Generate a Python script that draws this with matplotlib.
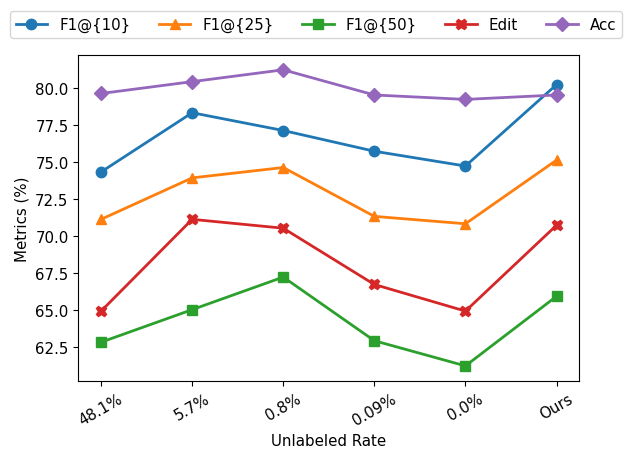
import matplotlib
matplotlib.use("Agg")
import matplotlib.pyplot as plt

categories = ["48.1%", "5.7%", "0.8%", "0.09%", "0.0%", "Ours"]
f1_10 = [74.3, 78.3, 77.1, 75.7, 74.7, 80.2]
f1_25 = [71.1, 73.9, 74.6, 71.3, 70.8, 75.1]
f1_50 = [62.8, 65.0, 67.2, 62.9, 61.2, 65.9]
edit = [64.9, 71.1, 70.5, 66.7, 64.9, 70.7]
acc = [79.6, 80.4, 81.2, 79.5, 79.2, 79.5]

series = [
    ("F1@{10}", f1_10, "o", "#1f77b4"),
    ("F1@{25}", f1_25, "^", "#ff7f0e"),
    ("F1@{50}", f1_50, "s", "#2ca02c"),
    ("Edit", edit, "X", "#d62728"),
    ("Acc", acc, "D", "#9467bd"),
]

fs = 10.8
fig = plt.figure(figsize=(6.32, 4.6), dpi=100)
ax = fig.add_axes([78.3/632, 1-381.7/460, (579.3-78.3)/632, (381.7-56)/460])
x = list(range(len(categories)))
for label, vals, m, c in series:
    ax.plot(x, vals, marker=m, color=c, label=label, linewidth=2, markersize=7.5)
ax.set_xticks(x)
ax.set_xticklabels(categories, rotation=30)
ax.set_xlabel("Unlabeled Rate", fontsize=fs)
ax.set_ylabel("Metrics (%)", fontsize=fs)
ax.tick_params(labelsize=fs)
fig.legend(loc="upper center", bbox_to_anchor=(0.5, 0.99), ncol=5, fontsize=fs,
           columnspacing=1.9, handlelength=2.1)
fig.savefig("out.png", dpi=100)
